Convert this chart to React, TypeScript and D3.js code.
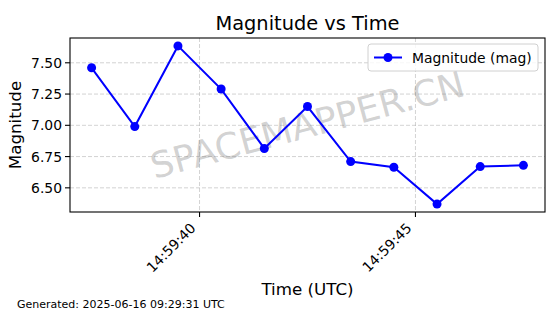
import React from "react";
import * as d3 from "d3";

const times = [37.5, 38.5, 39.5, 40.5, 41.5, 42.5, 43.5, 44.5, 45.5, 46.5, 47.5];
const magnitudes = [7.46, 6.99, 7.635, 7.29, 6.815, 7.15, 6.71, 6.665, 6.37, 6.67, 6.68];
const yTicks = [6.5, 6.75, 7.0, 7.25, 7.5];
const xTicks = [40, 45];
const xTickLabels = ["14:59:40", "14:59:45"];

const W = 560, H = 314;
const M = { left: 70, right: 545, top: 38, bottom: 212 };
const FONT = "DejaVu Sans, sans-serif";

export default function App() {
  const x = d3.scaleLinear().domain([37, 48]).range([M.left, M.right]);
  const ymin = d3.min(magnitudes)!, ymax = d3.max(magnitudes)!;
  const pad = (ymax - ymin) * 0.05;
  const y = d3.scaleLinear().domain([ymin - pad, ymax + pad]).range([M.bottom, M.top]);
  const line = d3.line<number>().x((_, i) => x(times[i])).y((d) => y(d));
  const cx = (M.left + M.right) / 2, cy = (M.top + M.bottom) / 2;

  return (
    <svg width={W} height={H} style={{ position: "absolute", left: 0, top: 0, background: "#fff" }} fontFamily={FONT}>
      <rect width={W} height={H} fill="#fff" />
      {yTicks.map((t) => (
        <line key={"gy" + t} x1={M.left} x2={M.right} y1={y(t)} y2={y(t)} stroke="#b0b0b0" strokeOpacity={0.7} strokeDasharray="4,2" strokeWidth={0.8} />
      ))}
      {xTicks.map((t) => (
        <line key={"gx" + t} y1={M.top} y2={M.bottom} x1={x(t)} x2={x(t)} stroke="#b0b0b0" strokeOpacity={0.7} strokeDasharray="4,2" strokeWidth={0.8} />
      ))}
      <text x={cx} y={cy} fontSize={36} fill="#808080" fillOpacity={0.36} textAnchor="middle" dominantBaseline="central" transform={`rotate(-15, ${cx}, ${cy})`}>SPACEMAPPER.CN</text>
      <path d={line(magnitudes)!} fill="none" stroke="#0000ff" strokeWidth={2} />
      {magnitudes.map((m, i) => (
        <circle key={i} cx={x(times[i])} cy={y(m)} r={4.5} fill="#0000ff" />
      ))}
      <rect x={M.left} y={M.top} width={M.right - M.left} height={M.bottom - M.top} fill="none" stroke="#000" strokeWidth={1.1} />
      {yTicks.map((t) => (
        <g key={"ty" + t}>
          <line x1={M.left - 5} x2={M.left} y1={y(t)} y2={y(t)} stroke="#000" strokeWidth={1.1} />
          <text x={M.left - 8} y={y(t)} fontSize={13.9} textAnchor="end" dominantBaseline="central">{t.toFixed(2)}</text>
        </g>
      ))}
      {xTicks.map((t, i) => (
        <g key={"tx" + t}>
          <line y1={M.bottom} y2={M.bottom + 5} x1={x(t)} x2={x(t)} stroke="#000" strokeWidth={1.1} />
          <text x={x(t) - 3} y={M.bottom + 17} fontSize={13.9} textAnchor="end" transform={`rotate(-45, ${x(t) - 3}, ${M.bottom + 17})`}>{xTickLabels[i]}</text>
        </g>
      ))}
      <text x={cx} y={30} fontSize={19.4} textAnchor="middle">Magnitude vs Time</text>
      <text x={cx} y={295} fontSize={16.7} textAnchor="middle">Time (UTC)</text>
      <text x={0} y={0} fontSize={16.7} textAnchor="middle" transform={`translate(21, ${cy}) rotate(-90)`}>Magnitude</text>
      <g>
        <rect x={368} y={44} width={170} height={27} rx={3} fill="#fff" fillOpacity={0.8} stroke="#d0d0d0" />
        <line x1={374} x2={402} y1={57.5} y2={57.5} stroke="#0000ff" strokeWidth={2} />
        <circle cx={388} cy={57.5} r={4.5} fill="#0000ff" />
        <text x={412} y={57.5} fontSize={13.9} dominantBaseline="central">Magnitude (mag)</text>
      </g>
      <text x={17} y={308} fontSize={11}>Generated: 2025-06-16 09:29:31 UTC</text>
    </svg>
  );
}
